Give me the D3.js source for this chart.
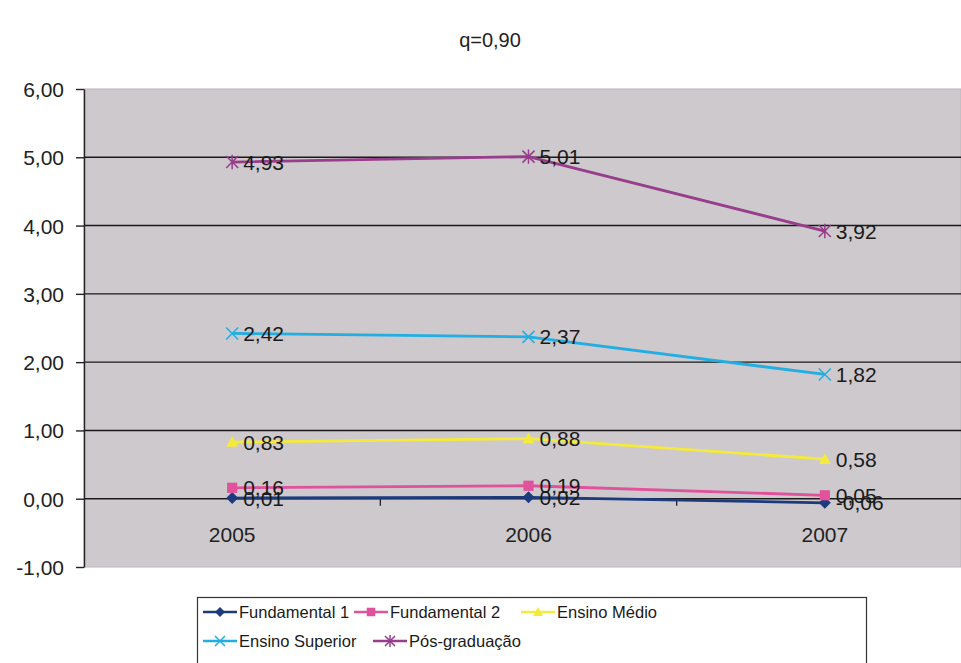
<!DOCTYPE html>
<html><head><meta charset="utf-8">
<script src="https://cdn.jsdelivr.net/npm/d3@7"></script>
<style>body{margin:0;background:#fff;} svg{display:block;font-family:"Liberation Sans",Arial,sans-serif;}</style>
</head><body>
<svg id="c" width="961" height="663"></svg>
<script>
const title = "q=0,90";
const years = ["2005", "2006", "2007"];
const seriesNames = ["Fundamental 1", "Fundamental 2", "Ensino Médio", "Ensino Superior", "Pós-graduação"];
const fundamental1 = [0.01, 0.02, -0.06];
const fundamental2 = [0.16, 0.19, 0.05];
const ensinoMedio = [0.83, 0.88, 0.58];
const ensinoSuperior = [2.42, 2.37, 1.82];
const posGraduacao = [4.93, 5.01, 3.92];
const yTicks = [-1, 0, 1, 2, 3, 4, 5, 6];

const seriesValues = [fundamental1, fundamental2, ensinoMedio, ensinoSuperior, posGraduacao];
const colors = ["#1d3a7c", "#e0529c", "#f4ea3c", "#22aee2", "#983c8c"];
const markers = ["diamond", "square", "triangle", "x", "star"];

const svg = d3.select("#c");
const fmt = v => d3.format(".2f")(v).replace(".", ",").replace("−", "-");

const plot = {left: 84, top: 89, bottom: 567, right: 973};
const x = d3.scaleBand().domain(years).range([plot.left, plot.right]);
const xc = d => x(d) + x.bandwidth() / 2;
const y = d3.scaleLinear().domain([-1, 6]).range([plot.bottom, plot.top]);

svg.append("text").attr("x", 490).attr("y", 47).attr("text-anchor", "middle")
  .attr("font-size", 20).attr("fill", "#222").text(title);

// plot background
svg.append("rect").attr("x", plot.left).attr("y", plot.top)
  .attr("width", 961 - plot.left).attr("height", plot.bottom - plot.top)
  .attr("fill", "#cdc9cd").attr("stroke", "#b8b4b8").attr("stroke-width", 1);

// gridlines
svg.append("g").selectAll("line").data(yTicks.filter(t => t > -1 && t < 6)).join("line")
  .attr("x1", plot.left).attr("x2", 961).attr("y1", d => y(d)).attr("y2", d => y(d))
  .attr("stroke", "#1a1a1a").attr("stroke-width", 1.4);

// y axis
const yAxis = d3.axisLeft(y).tickValues(yTicks).tickFormat(fmt).tickSize(8).tickSizeOuter(0);
const ya = svg.append("g").attr("transform", `translate(${plot.left},0)`).call(yAxis);
ya.attr("font-size", 21).attr("font-family", "Liberation Sans, Arial, sans-serif");
ya.select(".domain").attr("stroke", "#222").attr("stroke-width", 1.4);
ya.selectAll(".tick line").attr("stroke", "#222").attr("stroke-width", 1.4);
ya.selectAll(".tick text").attr("fill", "#222").attr("x", -20).attr("dy", "0.36em");

// x axis at 0
const xa = svg.append("g").attr("transform", `translate(0,${y(0)})`);
xa.selectAll("line.t").data(years.slice(1)).join("line").attr("class", "t")
  .attr("x1", d => x(d)).attr("x2", d => x(d)).attr("y1", 0).attr("y2", 7)
  .attr("stroke", "#222").attr("stroke-width", 1.3);
xa.selectAll("text").data(years).join("text")
  .attr("x", d => xc(d)).attr("y", 43).attr("text-anchor", "middle")
  .attr("font-size", 21).attr("fill", "#222").text(d => d);

function drawMarker(g, type, color, size) {
  const s = size;
  if (type === "diamond") {
    g.append("path").attr("d", `M0,${-s}L${s},0L0,${s}L${-s},0Z`).attr("fill", color);
  } else if (type === "square") {
    g.append("rect").attr("x", -s*0.85).attr("y", -s*0.85).attr("width", s*1.7).attr("height", s*1.7).attr("fill", color);
  } else if (type === "triangle") {
    g.append("path").attr("d", `M0,${-s}L${s},${s*0.8}L${-s},${s*0.8}Z`).attr("fill", color);
  } else if (type === "x") {
    g.append("path").attr("d", `M${-s},${-s}L${s},${s}M${-s},${s}L${s},${-s}`).attr("stroke", color).attr("stroke-width", 1.5);
  } else if (type === "star") {
    g.append("path").attr("d", `M${-s},${-s}L${s},${s}M${-s},${s}L${s},${-s}M0,${-s*1.2}L0,${s*1.2}`).attr("stroke", color).attr("stroke-width", 1.5);
  }
}

svg.append("clipPath").attr("id", "clip").append("rect")
  .attr("x", 0).attr("y", 0).attr("width", 961).attr("height", 663);

const line = d3.line().x((d, i) => xc(years[i])).y(d => y(d));
const gS = svg.append("g").attr("clip-path", "url(#clip)");
seriesValues.forEach((vals, si) => {
  gS.append("path").datum(vals).attr("d", line).attr("fill", "none")
    .attr("stroke", colors[si]).attr("stroke-width", 2.8);
});
seriesValues.forEach((vals, si) => {
  vals.forEach((v, i) => {
    const g = gS.append("g").attr("transform", `translate(${xc(years[i])},${y(v)})`);
    drawMarker(g, markers[si], colors[si], 6);
  });
});
seriesValues.forEach((vals, si) => {
  vals.forEach((v, i) => {
    gS.append("text").attr("x", xc(years[i]) + 11).attr("y", y(v) + 7.5)
      .attr("font-size", 21).attr("fill", "#1a1a1a").text(fmt(v));
  });
});

// legend
const lg = svg.append("g");
lg.append("rect").attr("x", 197.5).attr("y", 597.5).attr("width", 669).attr("height", 80)
  .attr("fill", "#fff").attr("stroke", "#333").attr("stroke-width", 1.2);
const legendPos = [[203, 612], [354, 612], [521, 612], [203, 641], [373, 641]];
seriesNames.forEach((name, si) => {
  const [lx, ly] = legendPos[si];
  const g = lg.append("g").attr("transform", `translate(${lx},${ly})`);
  g.append("line").attr("x1", 0).attr("x2", 34).attr("y1", 0).attr("y2", 0)
    .attr("stroke", colors[si]).attr("stroke-width", 2.5);
  const m = g.append("g").attr("transform", "translate(17,0)");
  drawMarker(m, markers[si], colors[si], 5);
  g.append("text").attr("x", 36).attr("y", 6).attr("font-size", 16.5).attr("fill", "#1a1a1a").text(name);
});
</script>
</body></html>
